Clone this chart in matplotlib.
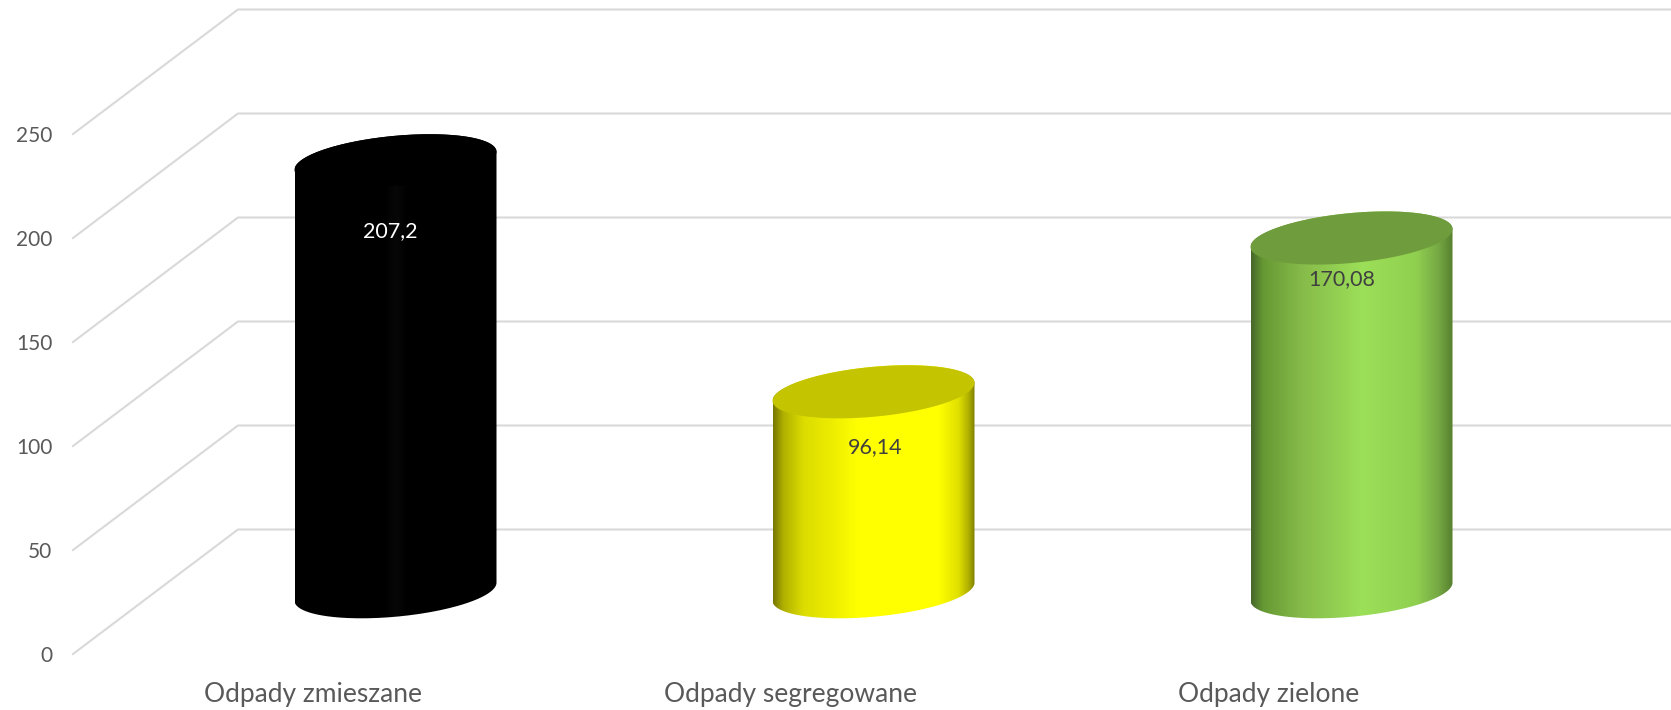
import numpy as np
import matplotlib
matplotlib.use('Agg')
import matplotlib.pyplot as plt
from matplotlib.colors import LinearSegmentedColormap
from matplotlib.path import Path
from matplotlib.patches import PathPatch

categories = ['Odpady zmieszane', 'Odpady segregowane', 'Odpady zielone']
values = [207.2, 96.14, 170.08]
value_labels = ['207,2', '96,14', '170,08']
y_ticks = [0, 50, 100, 150, 200, 250]

# pixel sizes of the picture, everything else is worked out from them
W, H = 1671, 710
px_x = 478.0  # pixels per category
px_y = 2.08  # pixels per unit of value

# the floor goes back and to the right
depth_x = 165 / px_x
depth_y = 124.5 / px_y

half_w = 101 / px_x
ell_b = 25 / px_y
ell_k = 9 / px_y

# where the value labels sit under the top of each cylinder (in value units)
label_drop = [34, 26.5, 20]
label_shift = [-0.01, 0.004, -0.02]
label_colors = ['white', '#404040', '#404040']

top_colors = ['#000000', '#c4c400', '#6f9c3c']
side_stops = [
    [(0, '#000000'), (0.44, '#000000'), (0.5, '#070707'), (0.56, '#000000'), (1, '#000000')],
    [(0, '#777700'), (0.05, '#b0b000'), (0.15, '#dcdc00'), (0.3, '#eeee00'), (0.42, '#ffff00'),
     (0.82, '#ffff00'), (0.92, '#e0e000'), (0.97, '#b0b000'), (1, '#808000')],
    [(0, '#47682a'), (0.06, '#669933'), (0.25, '#86bb4a'), (0.55, '#9cdf58'),
     (0.82, '#90d050'), (0.93, '#76a844'), (1, '#56802e')],
]

plt.rcParams['font.family'] = ['Lato', 'DejaVu Sans']

fig = plt.figure(figsize=(W / 100, H / 100), dpi=100)
ax = fig.add_axes([73 / W, (H - 654) / H, (W - 73) / W, 520 / H])
ax.set_xlim(-240 / px_x, (W - 73 - 240) / px_x)
ax.set_ylim(0, 250)
for s in ax.spines.values():
    s.set_visible(False)

ax.set_yticks(y_ticks)
ax.set_xticks(range(len(categories)))
ax.set_xticklabels(categories)
ax.tick_params(axis='y', length=0, pad=15, labelsize=15, labelcolor='#595959')
ax.tick_params(axis='x', length=0, pad=20, labelsize=19, labelcolor='#595959')

# gridlines: side wall then back wall
x0 = ax.get_xlim()[0]
x1 = ax.get_xlim()[1]
for v in y_ticks:
    ax.plot([x0, x0 + depth_x, x1], [v, v + depth_y, v + depth_y], color='#d9d9d9',
            lw=1.5, clip_on=False, zorder=1)

t = np.linspace(0, 2 * np.pi, 181)

for i, val in enumerate(values):
    cx = i + depth_x / 2
    base = depth_y / 2
    top = base + val

    # t=0 is the right end, which is higher than the left end
    ex = half_w * np.cos(t)
    ey = ell_b * np.sin(t) + ell_k * np.cos(t)

    # body outline: back half of top, down the left, front half of the bottom
    upper = t[t <= np.pi]
    lower = t[t >= np.pi]
    xs = np.concatenate([cx + half_w * np.cos(upper),
                         cx + half_w * np.cos(lower)])
    ys = np.concatenate([top + ell_b * np.sin(upper) + ell_k * np.cos(upper),
                         base + ell_b * np.sin(lower) + ell_k * np.cos(lower)])
    body = PathPatch(Path(np.column_stack([xs, ys])), fc='none', ec='none')
    ax.add_patch(body)

    cmap = LinearSegmentedColormap.from_list('side%d' % i, side_stops[i])
    grad = np.linspace(0, 1, 256).reshape(1, -1)
    im = ax.imshow(grad, cmap=cmap, aspect='auto', interpolation='bilinear', zorder=3,
                   extent=[cx - half_w, cx + half_w, base - 30, top + 30])
    im.set_clip_path(body)

    ax.fill(cx + ex, top + ey, color=top_colors[i], lw=0, zorder=4)

    ax.text(cx + label_shift[i], top - label_drop[i], value_labels[i], ha='center', va='center',
            fontsize=15.5, color=label_colors[i], zorder=5)

ax.set_xlim(x0, x1)
ax.set_ylim(0, 250)

fig.savefig('out.png', dpi=100, facecolor='white')
